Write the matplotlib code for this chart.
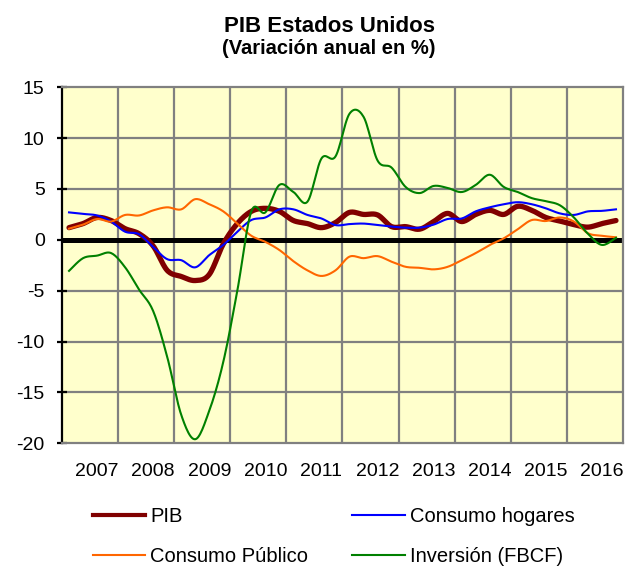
import numpy as np
import matplotlib
matplotlib.use("Agg")
import matplotlib.pyplot as plt
from matplotlib.lines import Line2D

plt.rcParams['font.family'] = ['Liberation Sans', 'DejaVu Sans']
plt.rcParams['axes.unicode_minus'] = False

## quarterly data 2007Q1 .. 2016Q4, yoy % change
years = ["2007", "2008", "2009", "2010", "2011", "2012", "2013", "2014", "2015", "2016"]

pib = [1.2, 1.6, 2.2, 1.9, 1.1, 0.6, -0.6, -3.0, -3.6, -4.0,
       -3.4, -0.4, 1.6, 2.8, 3.1, 2.8, 1.9, 1.6, 1.2, 1.7,
       2.7, 2.5, 2.45, 1.3, 1.3, 1.05, 1.8, 2.6, 1.8, 2.5,
       2.9, 2.5, 3.3, 2.9, 2.2, 1.85, 1.5, 1.25, 1.6, 1.9]

hogares = [2.7, 2.55, 2.4, 1.8, 0.8, 0.55, -0.7, -1.9, -2.0, -2.7,
           -1.5, -0.5, 0.8, 1.95, 2.2, 3.0, 3.0, 2.45, 2.1, 1.45,
           1.55, 1.6, 1.45, 1.3, 1.2, 1.2, 1.5, 2.05, 2.1, 2.8,
           3.2, 3.5, 3.7, 3.5, 3.1, 2.6, 2.45, 2.8, 2.85, 3.0]

publico = [1.1, 1.5, 2.05, 1.8, 2.45, 2.4, 2.9, 3.2, 3.0, 4.0,
           3.5, 2.8, 1.6, 0.4, -0.2, -1.0, -2.1, -3.0, -3.55, -3.0,
           -1.65, -1.8, -1.6, -2.15, -2.65, -2.75, -2.9, -2.65, -2.0, -1.3,
           -0.5, 0.15, 1.05, 1.95, 1.85, 2.2, 1.8, 0.65, 0.4, 0.25]

inversion = [-3.05, -1.8, -1.55, -1.3, -2.7, -4.9, -7.0, -11.5, -17.2, -19.6,
             -16.8, -12.0, -5.0, 2.8, 2.7, 5.4, 4.7, 3.75, 8.0, 8.2,
             12.4, 12.1, 7.8, 7.1, 5.2, 4.6, 5.3, 5.1, 4.7, 5.4,
             6.4, 5.2, 4.7, 4.1, 3.8, 3.4, 2.2, 0.6, -0.5, 0.2]


def smooth(vals, n=14):
    ##excel style smoothed line: bezier segments through every point
    p = np.column_stack([np.arange(len(vals), dtype=float), np.asarray(vals, float)])
    ext = np.vstack([p[0], p, p[-1]])
    t = np.linspace(0, 1, n, endpoint=False)[:, None]
    segs = []
    for i in range(len(p) - 1):
        p0, p3 = ext[i + 1], ext[i + 2]
        c1 = p0 + (ext[i + 2] - ext[i]) / 6
        c2 = p3 - (ext[i + 3] - ext[i + 1]) / 6
        segs.append((1 - t)**3 * p0 + 3 * (1 - t)**2 * t * c1 + 3 * (1 - t) * t**2 * c2 + t**3 * p3)
    segs.append(p[-1:])
    s = np.vstack(segs)
    return s[:, 0], s[:, 1]


fig = plt.figure(figsize=(6.27, 5.66), dpi=100)
ax = fig.add_axes([0.0989, 0.2168, 0.8947, 0.629])
ax.set_facecolor("#FFFFCC")

ax.set_xlim(-0.5, len(pib) - 0.5)
ax.set_ylim(-20, 15)
ax.set_yticks(range(-20, 16, 5))
ax.set_xticks([4 * k + 2 for k in range(len(years))])
ax.set_xticklabels(years)

##grid: vertical lines at year boundaries
for k in range(1, len(years)):
    ax.axvline(4 * k - 0.5, color="#808080", lw=1.6, zorder=1)
for v in range(-15, 15, 5):
    ax.axhline(v, color="#808080", lw=1.6, zorder=1)
ax.axhline(0, color="black", lw=3.6, zorder=2)

for side in ["top", "right", "bottom"]:
    ax.spines[side].set_color("#808080")
    ax.spines[side].set_linewidth(1.6)
ax.spines["left"].set_color("black")
ax.spines["left"].set_linewidth(1.6)

ax.tick_params(axis="y", direction="inout", length=7, width=1.6, pad=9, labelsize=14)
ax.tick_params(axis="x", length=0, pad=14, labelsize=14)

x, y = smooth(pib)
ax.plot(x, y, color="#800000", lw=3.8, zorder=3, solid_capstyle="round")
x, y = smooth(hogares)
ax.plot(x, y, color="#0000FF", lw=1.5, zorder=4)
x, y = smooth(publico)
ax.plot(x, y, color="#FF6600", lw=1.5, zorder=4)
x, y = smooth(inversion)
ax.plot(x, y, color="#008000", lw=1.5, zorder=5)

fig.text(0.525, 0.954, "PIB Estados Unidos", ha="center", va="center", fontsize=16, fontweight="bold")
fig.text(0.525, 0.914, "(Variación anual en %)", ha="center", va="center", fontsize=14.5, fontweight="bold")

handles = [Line2D([], [], color="#800000", lw=3),
           Line2D([], [], color="#FF6600", lw=1.5),
           Line2D([], [], color="#0000FF", lw=1.5),
           Line2D([], [], color="#008000", lw=1.5)]
labels = ["PIB", "Consumo Público", "Consumo hogares", "Inversión (FBCF)"]
fig.legend(handles, labels, ncol=2, loc="upper left", bbox_to_anchor=(0.148, 0.104),
           frameon=False, fontsize=14.5, handlelength=2.6, handletextpad=0.25,
           columnspacing=2.2, labelspacing=1.05, borderpad=0, borderaxespad=0)

fig.savefig("out.png", dpi=100)
